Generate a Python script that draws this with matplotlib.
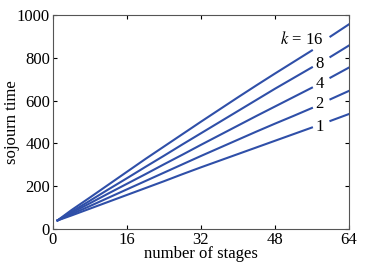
import numpy as np
import matplotlib
matplotlib.use("Agg")
import matplotlib.pyplot as plt

plt.rcParams["font.family"] = ["Liberation Serif", "DejaVu Serif"]
plt.rcParams["mathtext.fontset"] = "stix"

# stages sampled along the curves
stages = [1, 4, 8, 12, 16, 20, 24, 28, 32, 36, 40, 44, 48, 52, 56, 60, 64]

# sojourn time per k
k_labels = ["16", "8", "4", "2", "1"]
sojourn_k16 = [40, 88, 147, 207, 267, 327, 385, 443, 501, 558, 615, 671, 726, 780, 834, 899, 956]
sojourn_k8 = [40, 80, 132, 185, 237, 290, 342, 395, 447, 499, 551, 603, 655, 705, 755, 804, 857]
sojourn_k4 = [40, 75, 120, 166, 211, 256, 302, 347, 393, 438, 483, 528, 572, 616, 660, 707, 754]
sojourn_k2 = [40, 69, 107, 146, 185, 224, 263, 302, 341, 379, 417, 455, 492, 528, 565, 606, 645]
sojourn_k1 = [40, 63, 95, 127, 159, 191, 223, 256, 288, 319, 350, 381, 412, 443, 474, 505, 537]
series = [sojourn_k16, sojourn_k8, sojourn_k4, sojourn_k2, sojourn_k1]

label_y = [883, 771, 676, 582, 478]

color = "#2f4fa8"

fig = plt.figure(figsize=(3.86, 2.71), dpi=100)
ax = fig.add_axes([0.137, 0.155, 0.767, 0.79])

x = np.array(stages)
for ys, lab, ly in zip(series, k_labels, label_y):
    y = np.array(ys, dtype=float)
    # line is broken where the label sits
    left = x <= 56
    right = x >= 60
    ax.plot(x[left], y[left], color=color, lw=1.5)
    ax.plot(x[right], y[right], color=color, lw=1.5)
    text = r"$k$ = " + lab if lab == "16" else lab
    ax.text(58.5, ly, text, ha="right", va="center", fontsize=12)

ax.set_xlim(0, 64)
ax.set_ylim(0, 1000)
ax.set_xticks([0, 16, 32, 48, 64])
ax.set_yticks([0, 200, 400, 600, 800, 1000])
ax.tick_params(direction="in", top=True, right=True, labelsize=12, length=3, pad=2)
for s in ax.spines.values():
    s.set_color("#555555")
    s.set_linewidth(0.8)
ax.set_xlabel("number of stages", fontsize=12, labelpad=-1)
ax.set_ylabel("sojourn time", fontsize=12)
ax.yaxis.set_label_coords(-0.11, 0.5)

fig.savefig("out.png", dpi=100)
